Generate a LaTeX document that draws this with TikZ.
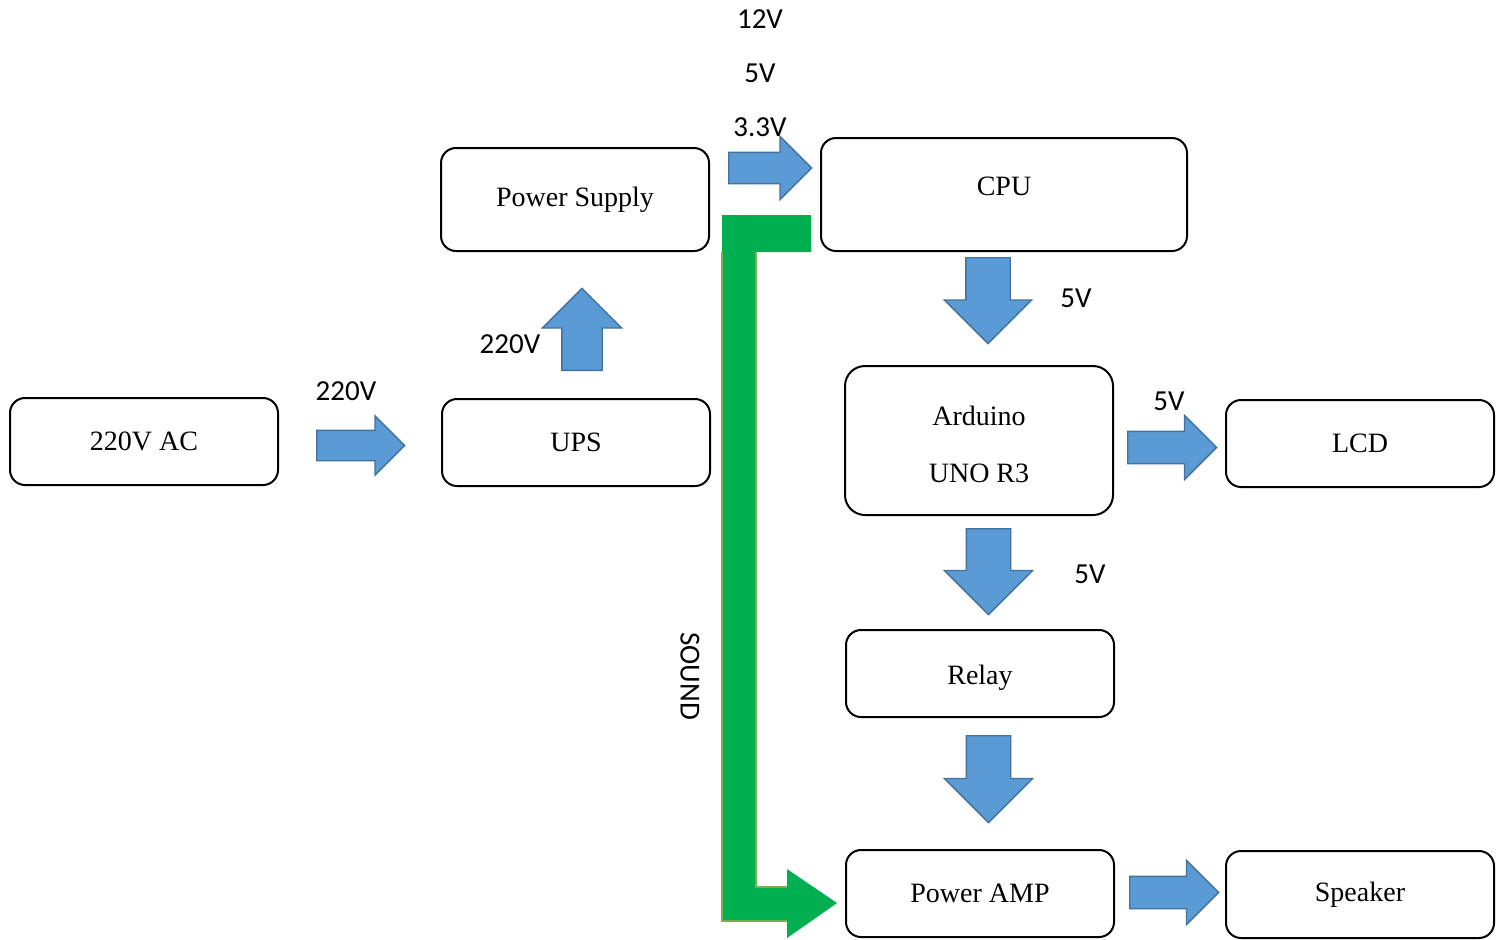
\documentclass[tikz,border=0pt]{standalone}
\usepackage{fontspec}
\setmainfont{Liberation Serif}
\newfontfamily\calfont{Carlito}
\usepackage{xcolor}
\usetikzlibrary{shapes.arrows}
\definecolor{PBlue}{HTML}{5B9BD5}
\definecolor{PEdge}{HTML}{41719C}
\definecolor{PGreen}{HTML}{00B050}
\definecolor{POlive}{HTML}{7CAF4A}
\newcommand{\boxfont}{\rmfamily\fontsize{14pt}{17pt}\selectfont}
\newcommand{\voltfont}{\calfont\fontsize{14.5pt}{17pt}\selectfont}

\begin{document}
\begin{tikzpicture}[
  x=0.5pt,y=-0.5pt,
  box/.style={draw=black,line width=1pt,rounded corners=7.5pt,
    minimum width=134pt,minimum height=43.5pt,align=center,font=\boxfont},
  blk/.style n args={3}{single arrow,fill=PBlue,draw=PEdge,line width=0.7pt,anchor=tail,
    inner xsep=0pt,minimum height=#1,inner ysep=#2,single arrow head extend=#3},
  volt/.style={font=\voltfont,inner sep=0pt}
]
  \useasboundingbox (0,0) rectangle (1499,939);

  % boxes
  \node[box] (ac) at (144,441.5) {220V AC};
  \node[box] (ups) at (576,442.5) {UPS};
  \node[box,minimum height=51.5pt] (psu) at (575,199.5) {Power Supply};
  \node[box,minimum width=183pt,minimum height=56.5pt,text depth=8pt] (cpu) at (1004,194.5) {CPU};
  \node[box,minimum height=74.5pt,rounded corners=10pt] (ard) at (979,440.5)
    {\rule{0pt}{14pt}Arduino\\[11.5pt]UNO R3};
  \node[box] (lcd) at (1360,443.5) {LCD};
  \node[box,text height=14pt] (relay) at (980,673.5) {Relay};
  \node[box] (amp) at (980,893.5) {Power AMP};
  \node[box] (spk) at (1360,894.5) {Speaker};

  % block arrows (placed by their tails)
  \node[blk={44pt}{7.25pt}{7.25pt}] (acups) at (316,445.5) {};
  \node[blk={41pt}{9.75pt}{9.75pt},rotate=90] (upspsu) at (582,371) {};
  \node[blk={41.5pt}{7.5pt}{8pt}] (psucpu) at (728,168) {};
  \node[blk={43pt}{10.75pt}{10.75pt},rotate=-90] (cpuard) at (988,257) {};
  \node[blk={43pt}{10.75pt}{11pt},rotate=-90] (ardrel) at (988.5,528) {};
  \node[blk={43.5pt}{10.75pt}{11pt},rotate=-90] (relamp) at (988.5,735) {};
  \node[blk={44.5pt}{7.75pt}{8pt}] (ardlcd) at (1127,447.5) {};
  \node[blk={44.5pt}{7.75pt}{8pt}] (ampspk) at (1129,892.5) {};

  % sound path
  \coordinate (sndtop) at (722,215);
  \coordinate (sndtip) at (837,903);
  \fill[PGreen] (sndtop) -- (811,215) -- (811,252) -- (756,252) -- (756,887)
    -- (787,887) -- (787,869) -- (sndtip) -- (787,938) -- (787,921) -- (722,921) -- cycle;
  \draw[POlive,line width=0.8pt] (722,252) -- (722,921) -- (787,921);
  \draw[POlive,line width=0.8pt] (756,252) -- (756,887) -- (787,887);
  \node[volt,rotate=-90] (snd) at (690,676) {SOUND};

  % voltage labels
  \node[volt] (v12) at (760,19) {12V};
  \node[volt] (v5) at (760,73) {5V};
  \node[volt] (v33) at (760,127) {3.3V};
  \node[volt] (vin) at (346,391) {220V};
  \node[volt] (vups) at (510,344) {220V};
  \node[volt] (vcpu) at (1076,298) {5V};
  \node[volt] (vlcd) at (1169,401) {5V};
  \node[volt] (vrel) at (1090,574) {5V};
\end{tikzpicture}
\end{document}
